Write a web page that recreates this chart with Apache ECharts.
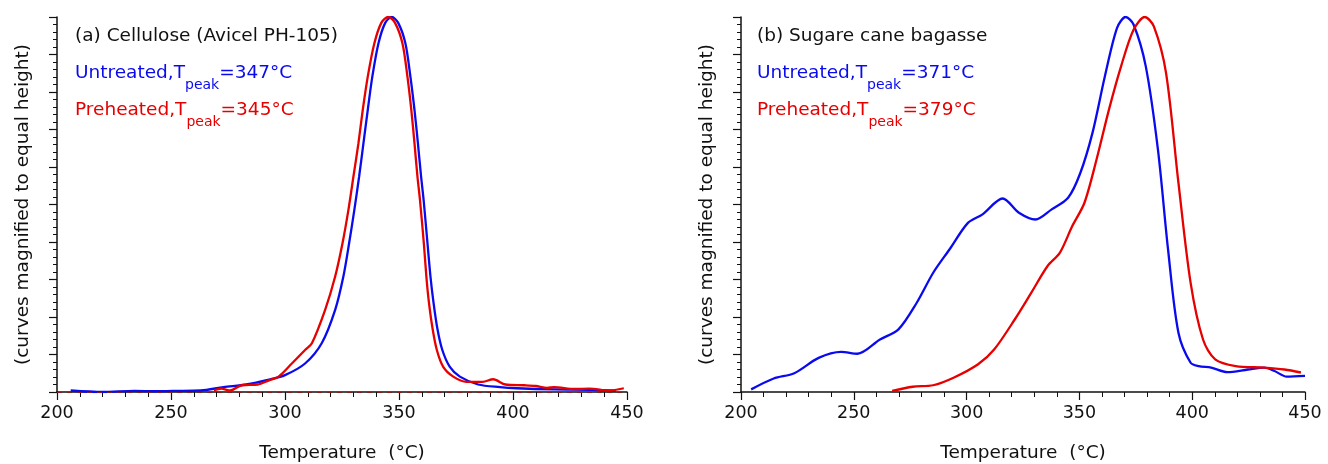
<!DOCTYPE html>
<html>
<head>
<meta charset="utf-8">
<script src="https://cdn.jsdelivr.net/npm/echarts@6/dist/echarts.min.js"></script>
<style>
  html, body { margin: 0; padding: 0; background: #fff; }
  #chart { width: 1328px; height: 464px; }
</style>
</head>
<body>
<div id="chart"></div>
<script>
  // (a) Cellulose: [temperature, normalized rate]
  var celluloseUntreated = [
    [206, 0.004], [220, 0.0], [234, 0.003], [243, 0.002], [251, 0.003], [263, 0.004],
    [273, 0.013], [283, 0.02], [293, 0.033], [300, 0.045], [308.8, 0.076], [316.1, 0.13],
    [322, 0.219], [325.6, 0.308], [328.1, 0.396], [330.4, 0.485], [332.5, 0.574], [334.4, 0.663],
    [336.3, 0.752], [338.3, 0.841], [341, 0.93], [344, 0.985], [346.8, 1.0], [349.6, 0.985],
    [352.8, 0.93], [355, 0.841], [356.8, 0.752], [358.3, 0.663], [359.7, 0.574], [360.8, 0.512],
    [362.5, 0.396], [363.8, 0.308], [365, 0.245], [366.8, 0.17], [369, 0.112], [372.3, 0.067],
    [376.7, 0.041], [384.7, 0.02], [394.3, 0.013], [401.8, 0.01], [418.5, 0.007], [435, 0.006],
    [445, 0.003]
  ];
  var cellulosePreheated = [
    [268.8, 0.004], [272, 0.009], [276, 0.004], [281, 0.018], [288, 0.02], [293, 0.031],
    [297.2, 0.041], [303, 0.076], [308.8, 0.112], [311.8, 0.13], [317.6, 0.219], [322, 0.308],
    [325.2, 0.396], [327.8, 0.485], [330, 0.574], [332.2, 0.663], [334.1, 0.752], [336.3, 0.841],
    [339.2, 0.93], [342.3, 0.985], [345.3, 1.0], [348.2, 0.985], [351.5, 0.93], [353.7, 0.841],
    [355.4, 0.752], [356.8, 0.663], [358.1, 0.574], [359.2, 0.512], [360.9, 0.396], [362, 0.308],
    [363, 0.245], [364.7, 0.17], [366.6, 0.112], [369.4, 0.067], [373.8, 0.041], [379.6, 0.027],
    [386.7, 0.027], [391.3, 0.034], [396.7, 0.02], [405, 0.018], [410, 0.016], [415, 0.011],
    [418, 0.013], [427, 0.008], [433.5, 0.009], [442, 0.004], [448.6, 0.01]
  ];
  // (b) Sugar cane bagasse
  var bagasseUntreated = [
    [204.5, 0.007], [214.5, 0.036], [223.6, 0.05], [234.4, 0.091], [244.4, 0.107], [251.6, 0.102],
    [261.6, 0.14], [269.8, 0.167], [277.9, 0.238], [285.2, 0.318], [292.4, 0.38], [300.6, 0.451],
    [306.9, 0.473], [316, 0.516], [323.2, 0.478], [330.5, 0.46], [337.7, 0.487], [345, 0.518],
    [350.4, 0.584], [355.8, 0.691], [361.3, 0.842], [366.7, 0.971], [370.5, 1.0], [374, 0.98],
    [379.4, 0.869], [384.8, 0.647], [389.3, 0.38], [393.9, 0.158], [399.3, 0.078], [402.9, 0.069],
    [408.4, 0.065], [415.6, 0.053], [424.7, 0.06], [431.9, 0.065], [436.5, 0.056], [441.9, 0.041],
    [450, 0.043]
  ];
  var bagassePreheated = [
    [267, 0.003], [276.1, 0.014], [285.2, 0.018], [294.2, 0.038], [305.1, 0.074], [312.3, 0.114],
    [321.4, 0.194], [328.7, 0.265], [335.9, 0.336], [341.3, 0.371], [346.8, 0.442], [352.2, 0.504],
    [357.6, 0.62], [363.1, 0.753], [368.5, 0.869], [374, 0.966], [379, 1.0], [383, 0.975],
    [388.4, 0.851], [393.9, 0.558], [399.3, 0.291], [404.8, 0.14], [410.2, 0.087], [419.3, 0.069],
    [431.9, 0.065], [440.9, 0.06], [448.2, 0.052]
  ];
  var panelTitles = ['(a) Cellulose (Avicel PH-105)', '(b) Sugare cane bagasse'];
  var peakUntreated = ['347', '371'];
  var peakPreheated = ['345', '379'];

  var font = 'DejaVu Sans';
  var blue = '#0a0aee';
  var red = '#e60000';

  function xAxis(idx) {
    return {
      gridIndex: idx, type: 'value', min: 200, max: 450, interval: 50,
      name: 'Temperature  (°C)', nameLocation: 'middle', nameGap: 52,
      nameTextStyle: { color: '#111', fontSize: 18.5, fontFamily: font },
      axisLine: { lineStyle: { color: '#111', width: 1.5 } },
      axisTick: { inside: false, length: 8, lineStyle: { color: '#111', width: 1.2 } },
      minorTick: { show: true, splitNumber: 5, length: 5, lineStyle: { color: '#111', width: 1 } },
      axisLabel: { color: '#111', fontSize: 17.5, fontFamily: font, margin: 12 },
      splitLine: { show: false }
    };
  }
  function yAxis(idx) {
    return {
      gridIndex: idx, type: 'value', min: 0, max: 1, interval: 0.1,
      name: '(curves magnified to equal height)', nameLocation: 'middle', nameGap: 24,
      nameTextStyle: { color: '#111', fontSize: 18.5, fontFamily: font },
      axisLine: { show: true, lineStyle: { color: '#111', width: 1.5 } },
      axisTick: { inside: false, length: 8, lineStyle: { color: '#111', width: 1.2 } },
      minorTick: { show: true, splitNumber: 5, length: 4, lineStyle: { color: '#111', width: 1 } },
      axisLabel: { show: false },
      splitLine: { show: false }
    };
  }
  function line(data, color, idx) {
    return {
      type: 'line', xAxisIndex: idx, yAxisIndex: idx, data: data,
      smooth: 0.3, showSymbol: false, clip: true,
      lineStyle: { color: color, width: 2.3 }
    };
  }
  function label(x, title, pu, pp) {
    var rich = {
      b: { fill: blue, fontSize: 18.5, fontFamily: font },
      bs: { fill: blue, fontSize: 14, fontFamily: font, verticalAlign: 'bottom', padding: [0, 0, -9, 0] },
      r: { fill: red, fontSize: 18.5, fontFamily: font },
      rs: { fill: red, fontSize: 14, fontFamily: font, verticalAlign: 'bottom', padding: [0, 0, -9, 0] }
    };
    return [
      { type: 'text', left: x, top: 27, style: { text: title, fill: '#111', fontSize: 18.5, fontFamily: font } },
      { type: 'text', left: x, top: 64, style: { text: '{b|Untreated,T}{bs|peak}{b|=' + pu + '°C}', rich: rich } },
      { type: 'text', left: x, top: 101, style: { text: '{r|Preheated,T}{rs|peak}{r|=' + pp + '°C}', rich: rich } }
    ];
  }

  var chart = echarts.init(document.getElementById('chart'));
  var leftPre = line(cellulosePreheated, red, 0);
  // faint dashed baseline seen along the left panel's zero line
  leftPre.markLine = {
    silent: true, symbol: 'none', label: { show: false },
    lineStyle: { color: '#8a1a1a', type: [5, 5], width: 1 },
    data: [{ yAxis: 0 }]
  };
  chart.setOption({
    backgroundColor: '#fff',
    animation: false,
    grid: [
      { left: 57, right: 701, top: 17, bottom: 72, outerBoundsMode: 'none' },
      { left: 741, right: 23, top: 17, bottom: 72, outerBoundsMode: 'none' }
    ],
    xAxis: [xAxis(0), xAxis(1)],
    yAxis: [yAxis(0), yAxis(1)],
    series: [
      line(celluloseUntreated, blue, 0),
      leftPre,
      line(bagasseUntreated, blue, 1),
      line(bagassePreheated, red, 1)
    ],
    graphic: label(75, panelTitles[0], peakUntreated[0], peakPreheated[0])
      .concat(label(757, panelTitles[1], peakUntreated[1], peakPreheated[1]))
  });
</script>
</body>
</html>
